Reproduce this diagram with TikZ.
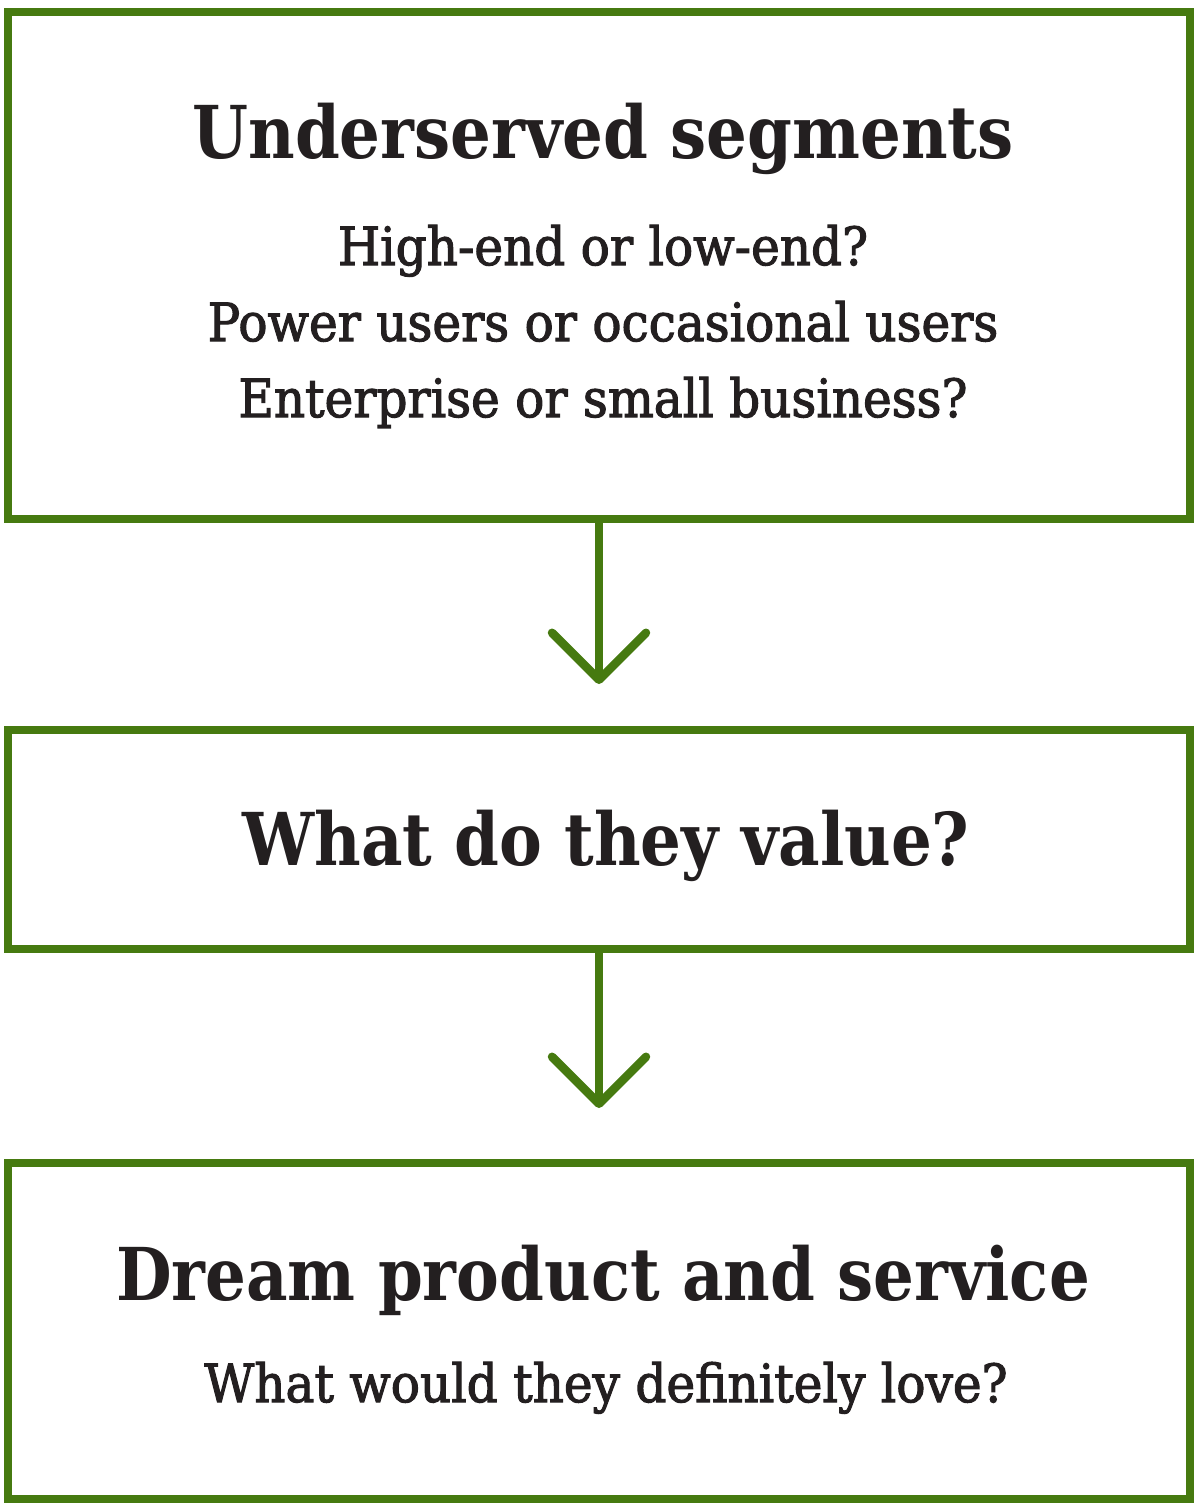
\documentclass[tikz,border=0pt]{standalone}
\usepackage{fontspec}
\setmainfont{DejaVu Serif}
\newfontfamily\headfont{DejaVu Serif}[FakeStretch=0.88]
\newfontfamily\subfont{DejaVu Serif}[FakeStretch=0.92, FakeBold=2]
\usetikzlibrary{arrows.meta}
\definecolor{flowgreen}{HTML}{467A10}
\definecolor{flowink}{HTML}{231F20}

\begin{document}
\begin{tikzpicture}[x=0.02cm, y=-0.02cm,
    box/.style={draw=flowgreen, line width=0.16cm, minimum width=23.64cm, inner sep=0pt},
    link/.style={draw=flowgreen, line width=0.17cm, line cap=round,
      -{Straight Barb[length=0.94cm, width=1.88cm, line cap=round, line join=round]}},
    head/.style={font=\headfont\fontsize{41.5}{50}\selectfont\bfseries, text=flowink, anchor=base},
    sub/.style={font=\subfont\fontsize{30}{36}\selectfont, text=flowink, anchor=base},
  ]
  \useasboundingbox (0,0) rectangle (1200,1508);
  % boxes
  \node[box, minimum height=10.14cm] (segments) at (599,265.5) {};
  \node[box, minimum height=4.38cm]  (value)    at (599,839.5) {};
  \node[box, minimum height=6.72cm]  (dream)    at (599,1331)  {};
  % texts
  \node[head] (segtitle) at (603,158)  {Underserved segments};
  \node[sub]  (segline1) at (603,265)  {High-end or low-end?};
  \node[sub]  (segline2) at (603,341)  {Power users or occasional users};
  \node[sub]  (segline3) at (603,417)  {Enterprise or small business?};
  \node[head] (valtitle) at (606,865)  {What do they value?};
  \node[head] (drmtitle) at (603,1300) {Dream product and service};
  \node[sub]  (drmline1) at (606,1402) {What would they definitely love?};
  % arrows
  \coordinate (tip1) at (599,684);
  \coordinate (tip2) at (599,1108);
  \draw[link] (segments.south) -- (tip1);
  \draw[link] (value.south) -- (tip2);
\end{tikzpicture}
\end{document}
